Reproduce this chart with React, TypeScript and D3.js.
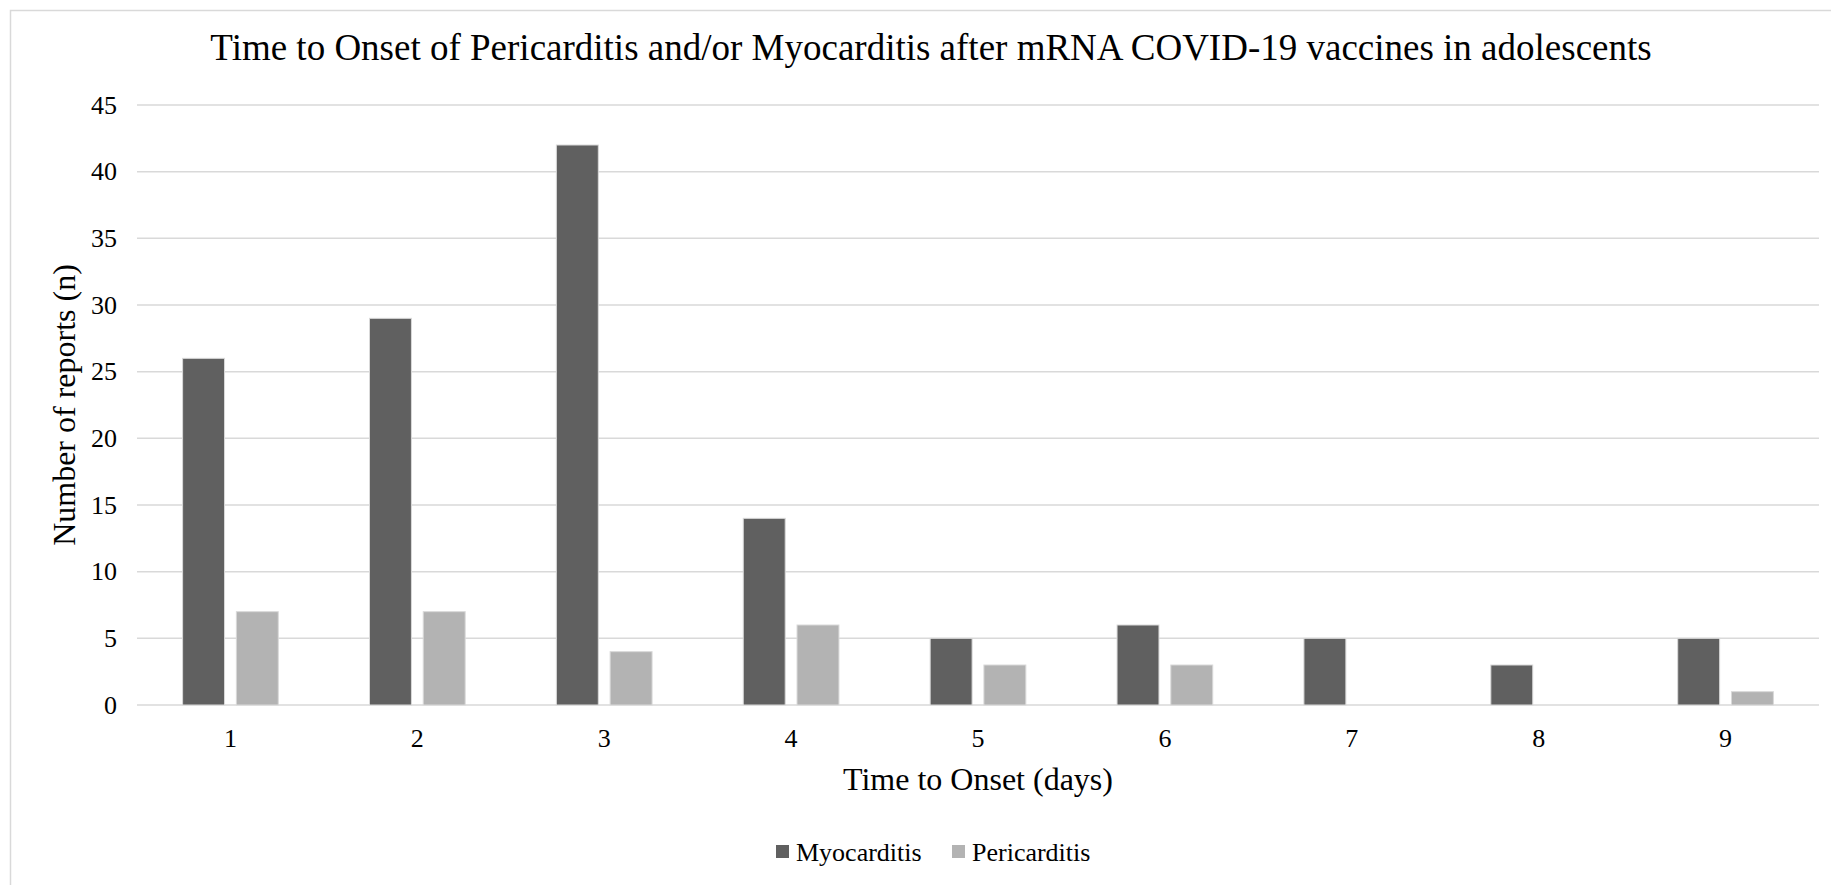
import * as d3 from 'd3';

const days = ['1', '2', '3', '4', '5', '6', '7', '8', '9'];
const myocarditis = [26, 29, 42, 14, 5, 6, 5, 3, 5];
const pericarditis = [7, 7, 4, 6, 3, 3, 0, 0, 1];
const yTicks = [0, 5, 10, 15, 20, 25, 30, 35, 40, 45];

const seriesNames = ['Myocarditis', 'Pericarditis'];
const seriesColors = ['#606060', '#b3b3b3'];

const W = 1831;
const H = 885;
const margin = { left: 137, right: 12, top: 105, bottom: 180 };
const font = '"Liberation Serif", "Times New Roman", serif';

const App = () => {
  const x = d3.scaleBand<string>().domain(days).range([margin.left, W - margin.right]);
  const bw = x.bandwidth();
  // the pair of bars takes about half of each category slot, centred
  const inner = d3.scaleBand<string>()
    .domain(seriesNames)
    .range([bw * 0.244, bw * 0.756])
    .paddingInner(0.22);
  const y = d3.scaleLinear().domain([0, 45]).range([H - margin.bottom, margin.top]);
  const rows = [myocarditis, pericarditis];

  return (
    <svg width={W} height={H} style={{ position: 'absolute', left: 0, top: 0 }} fontFamily={font}>
      <rect x={0} y={0} width={W} height={H} fill="#fff" />
      <rect x={10.5} y={10.5} width={W} height={H} fill="none" stroke="#d9d9d9" strokeWidth={1.5} />

      <text x={931} y={52} textAnchor="middle" dominantBaseline="middle" fontSize={37} fill="#000">
        Time to Onset of Pericarditis and/or Myocarditis after mRNA COVID-19 vaccines in adolescents
      </text>

      {/* gridlines + y labels */}
      {yTicks.map(t => (
        <g key={t}>
          <line x1={margin.left} x2={W - margin.right} y1={y(t)} y2={y(t)} stroke="#d9d9d9" strokeWidth={1.5} />
          <text x={117} y={y(t)} textAnchor="end" dominantBaseline="central" fontSize={26} fill="#000">{t}</text>
        </g>
      ))}

      {/* bars */}
      {rows.map((vals, si) => (
        <g key={seriesNames[si]}>
          {vals.map((v, i) => v > 0 && (
            <rect
              key={i}
              x={(x(days[i]) ?? 0) + (inner(seriesNames[si]) ?? 0)}
              y={y(v)}
              width={inner.bandwidth()}
              height={y(0) - y(v)}
              fill={seriesColors[si]}
              stroke="#d9d9d9"
              strokeWidth={1}
            />
          ))}
        </g>
      ))}

      {/* x labels */}
      {days.map(d => (
        <text key={d} x={(x(d) ?? 0) + bw / 2} y={738} textAnchor="middle" dominantBaseline="central" fontSize={26} fill="#000">{d}</text>
      ))}

      <text x={978} y={779} textAnchor="middle" dominantBaseline="central" fontSize={32} fill="#000">Time to Onset (days)</text>
      <text transform={`translate(64, ${(y(0) + y(45)) / 2}) rotate(-90)`} textAnchor="middle" dominantBaseline="central" fontSize={32} fill="#000">
        Number of reports (n)
      </text>

      {/* legend */}
      <g>
        <rect x={776} y={845} width={13} height={13} fill={seriesColors[0]} />
        <text x={796} y={852} dominantBaseline="central" fontSize={26} fill="#000">{seriesNames[0]}</text>
        <rect x={952} y={845} width={13} height={13} fill={seriesColors[1]} />
        <text x={972} y={852} dominantBaseline="central" fontSize={26} fill="#000">{seriesNames[1]}</text>
      </g>
    </svg>
  );
};

export default App;
